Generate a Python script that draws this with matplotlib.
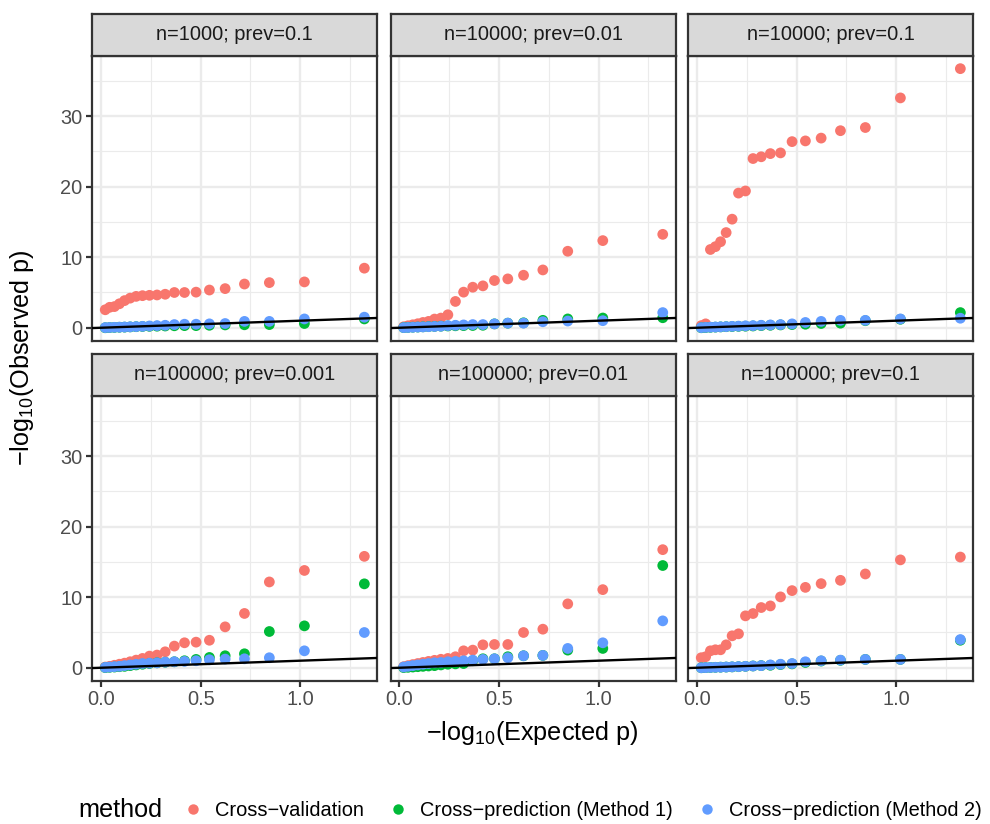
import numpy as np
import matplotlib.pyplot as plt
from matplotlib.lines import Line2D

plt.rcParams['font.family'] = ['Liberation Sans', 'DejaVu Sans']
plt.rcParams['mathtext.fontset'] = 'custom'
plt.rcParams['mathtext.rm'] = 'Liberation Sans'
plt.rcParams['mathtext.it'] = 'Liberation Sans:italic'

# expected -log10(p) of the 20 quantiles (same in every panel)
expected = [0.021, 0.043, 0.067, 0.092, 0.118, 0.146, 0.176, 0.208, 0.243, 0.281,
            0.322, 0.368, 0.419, 0.477, 0.544, 0.623, 0.720, 0.845, 1.021, 1.322]

panels = ['n=1000; prev=0.1', 'n=10000; prev=0.01', 'n=10000; prev=0.1',
          'n=100000; prev=0.001', 'n=100000; prev=0.01', 'n=100000; prev=0.1']

methods = ['Cross\u2212validation', 'Cross\u2212prediction (Method 1)',
           'Cross\u2212prediction (Method 2)']
colors = ['#F8766D', '#00BA38', '#619CFF']

# observed -log10(p), one list per panel and method
cv = [
    [2.55, 2.9, 3.0, 3.4, 3.85, 4.2, 4.45, 4.55, 4.6, 4.65, 4.75, 5.0, 5.0, 5.05, 5.35, 5.55, 6.2, 6.4, 6.5, 8.45],
    [0.14, 0.28, 0.42, 0.57, 0.75, 0.9, 1.23, 1.37, 1.84, 3.73, 5.05, 5.75, 5.94, 6.7, 6.93, 7.45, 8.2, 10.85, 12.36, 13.25],
    [0.3, 0.55, 11.1, 11.5, 12.2, 13.5, 15.4, 19.1, 19.4, 24.0, 24.25, 24.7, 24.8, 26.4, 26.5, 26.9, 27.95, 28.4, 32.6, 36.75],
    [0.1, 0.2, 0.35, 0.5, 0.65, 0.85, 1.08, 1.32, 1.65, 1.8, 2.26, 3.07, 3.54, 3.63, 3.9, 5.8, 7.7, 12.17, 13.8, 15.8],
    [0.15, 0.3, 0.45, 0.6, 0.75, 0.9, 1.05, 1.2, 1.32, 1.56, 2.4, 2.5, 3.25, 3.3, 3.3, 5.0, 5.47, 9.06, 11.08, 16.75],
    [1.42, 1.56, 2.4, 2.55, 2.55, 3.25, 4.53, 4.81, 7.36, 7.69, 8.54, 8.77, 10.05, 10.94, 11.4, 11.93, 12.4, 13.3, 15.3, 15.7],
]
cp1 = [
    [0.0, 0.03, 0.05, 0.07, 0.09, 0.12, 0.15, 0.18, 0.2, 0.22, 0.25, 0.28, 0.3, 0.3, 0.35, 0.4, 0.42, 0.45, 0.6, 1.25],
    [0.02, 0.05, 0.08, 0.1, 0.13, 0.16, 0.19, 0.22, 0.25, 0.28, 0.3, 0.32, 0.35, 0.55, 0.65, 0.7, 1.05, 1.25, 1.38, 1.42],
    [0.0, 0.03, 0.06, 0.09, 0.12, 0.15, 0.17, 0.2, 0.22, 0.25, 0.3, 0.35, 0.4, 0.45, 0.5, 0.6, 0.65, 1.0, 1.2, 2.15],
    [0.02, 0.06, 0.1, 0.15, 0.2, 0.3, 0.4, 0.5, 0.6, 0.7, 0.78, 0.85, 0.99, 1.18, 1.46, 1.7, 1.98, 5.14, 5.94, 11.9],
    [0.02, 0.06, 0.1, 0.15, 0.2, 0.25, 0.3, 0.4, 0.5, 0.55, 0.6, 1.0, 1.27, 1.27, 1.56, 1.7, 1.75, 2.5, 2.74, 14.5],
    [0.0, 0.02, 0.04, 0.06, 0.08, 0.1, 0.12, 0.15, 0.2, 0.25, 0.3, 0.35, 0.45, 0.55, 0.75, 0.95, 1.05, 1.18, 1.18, 3.9],
]
cp2 = [
    [0.02, 0.04, 0.06, 0.08, 0.1, 0.13, 0.16, 0.2, 0.25, 0.3, 0.35, 0.45, 0.5, 0.5, 0.55, 0.6, 0.9, 0.9, 1.25, 1.5],
    [0.02, 0.04, 0.07, 0.1, 0.12, 0.15, 0.18, 0.22, 0.3, 0.35, 0.4, 0.45, 0.45, 0.55, 0.65, 0.65, 0.85, 0.95, 1.0, 2.15],
    [0.02, 0.05, 0.08, 0.1, 0.13, 0.16, 0.2, 0.23, 0.27, 0.3, 0.35, 0.4, 0.45, 0.55, 0.75, 0.9, 1.05, 1.05, 1.25, 1.35],
    [0.05, 0.1, 0.15, 0.2, 0.3, 0.4, 0.5, 0.6, 0.65, 0.7, 0.8, 0.85, 0.9, 0.99, 1.13, 1.23, 1.27, 1.42, 2.4, 5.0],
    [0.1, 0.2, 0.3, 0.4, 0.5, 0.6, 0.7, 0.75, 0.85, 0.9, 0.99, 1.08, 1.18, 1.27, 1.42, 1.7, 1.75, 2.74, 3.54, 6.65],
    [0.0, 0.02, 0.04, 0.06, 0.08, 0.1, 0.13, 0.16, 0.2, 0.25, 0.3, 0.4, 0.5, 0.6, 0.85, 0.99, 1.08, 1.18, 1.18, 4.0],
]

W, H = 990, 824
fig = plt.figure(figsize=(W / 100, H / 100), dpi=100)

col_left = [92.3, 390.7, 688.3]
pw = 285.0
row_top = [55.7, 395.7]   # top of the panel (bottom of the strip)
ph = 285.0
sh = 41.7

# ggplot-style 5% expansion, fixed scales
all_y = np.concatenate([np.ravel(cv), np.ravel(cp1), np.ravel(cp2)])
ymin, ymax = all_y.min(), all_y.max()
xmin, xmax = min(expected), max(expected)
xl = (xmin - 0.05 * (xmax - xmin), xmax + 0.05 * (xmax - xmin))
yl = (ymin - 0.05 * (ymax - ymin), ymax + 0.05 * (ymax - ymin))

small = 14.4
big = 18.2
border = '#333333'
for k, title in enumerate(panels):
    r, c = divmod(k, 3)
    left = col_left[c] / W
    bottom = 1 - (row_top[r] + ph) / H
    ax = fig.add_axes([left, bottom, pw / W, ph / H])
    ax.set_xlim(xl)
    ax.set_ylim(yl)
    ax.set_xticks([0, 0.5, 1.0])
    ax.set_xticklabels(['0.0', '0.5', '1.0'])
    ax.set_xticks([0.25, 0.75, 1.25], minor=True)
    ax.set_yticks([0, 10, 20, 30])
    ax.set_yticks([5, 15, 25, 35], minor=True)
    ax.grid(which='major', color='#EBEBEB', lw=1.7)
    ax.grid(which='minor', color='#EBEBEB', lw=0.85)
    ax.set_axisbelow(True)
    for s in ax.spines.values():
        s.set_color(border)
        s.set_linewidth(1.6)
    ax.tick_params(which='major', direction='out', length=4.4, width=1.6,
                   color=border, labelcolor='#4D4D4D', labelsize=small, pad=2.5)
    ax.tick_params(which='minor', length=0)
    if r == 0:
        ax.tick_params(bottom=False, labelbottom=False)
    if c > 0:
        ax.tick_params(left=False, labelleft=False)

    for vals, col in zip([cv[k], cp1[k], cp2[k]], colors):
        ax.scatter(expected, vals, s=60, color=col, edgecolors='none', zorder=3)
    ax.axline((0, 0), slope=1, color='black', lw=1.7, zorder=4)

    sax = fig.add_axes([left, 1 - row_top[r] / H, pw / W, sh / H])
    sax.set_facecolor('#D9D9D9')
    sax.set_xticks([])
    sax.set_yticks([])
    for s in sax.spines.values():
        s.set_color(border)
        s.set_linewidth(1.6)
    sax.text(0.5, 0.5, title, ha='center', va='center', fontsize=small,
             color='#1A1A1A', transform=sax.transAxes)

fig.text(532.5 / W, 1 - 733 / H, r'$\mathregular{-log_{10}}$(Expected p)',
         ha='center', va='center', fontsize=big)
fig.text(22 / W, 1 - 358 / H, r'$\mathregular{-log_{10}}$(Observed p)',
         ha='center', va='center', fontsize=big, rotation=90)

fig.text(78 / W, 1 - 810 / H, 'method', ha='left', va='center', fontsize=big)
handles = [Line2D([], [], marker='o', ls='', color=col, markersize=7.5,
                  markeredgewidth=0) for col in colors]
fig.legend(handles, methods, loc='center left',
           bbox_to_anchor=(185 / W, 1 - 810 / H), ncol=3, frameon=False,
           fontsize=small, handlelength=0.8, handletextpad=0.7,
           columnspacing=1.3, borderpad=0, borderaxespad=0)

fig.savefig('out.png', dpi=100)
